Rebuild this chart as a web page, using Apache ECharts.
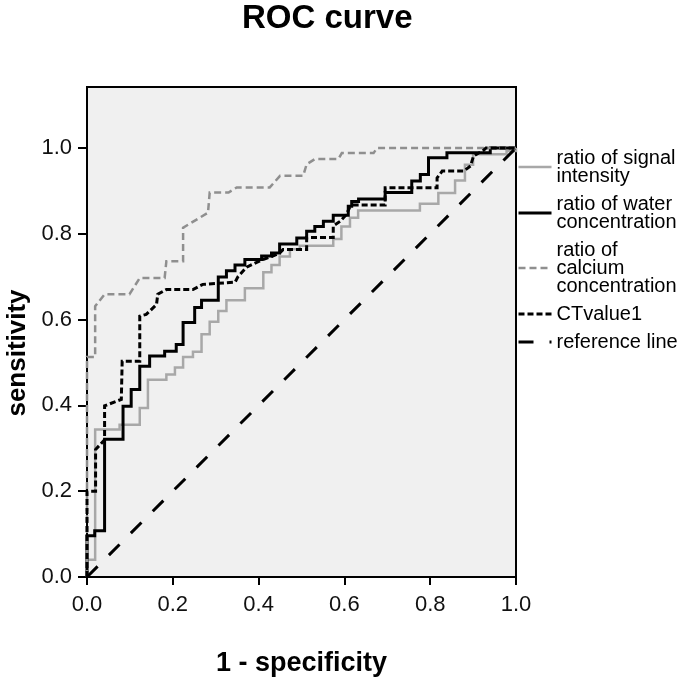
<!DOCTYPE html>
<html>
<head>
<meta charset="utf-8">
<script src="https://cdn.jsdelivr.net/npm/echarts@6/dist/echarts.min.js"></script>
<style>
html, body { margin: 0; padding: 0; background: #fff; }
#chart { width: 677px; height: 677px; }
</style>
</head>
<body>
<div id="chart"></div>
<script>
// ROC points as [1 - specificity, sensitivity]
const signalIntensity = [
  [0, 0], [0, 0.04], [0.019, 0.04], [0.019, 0.344], [0.076, 0.344], [0.076, 0.355],
  [0.123, 0.355], [0.123, 0.394], [0.142, 0.394], [0.142, 0.46], [0.185, 0.46],
  [0.185, 0.472], [0.205, 0.472], [0.205, 0.488], [0.224, 0.488], [0.224, 0.513],
  [0.247, 0.513], [0.247, 0.525], [0.267, 0.525], [0.267, 0.566], [0.286, 0.566],
  [0.286, 0.595], [0.306, 0.595], [0.306, 0.62], [0.325, 0.62], [0.325, 0.645],
  [0.368, 0.645], [0.368, 0.673], [0.411, 0.673], [0.411, 0.71], [0.43, 0.71],
  [0.43, 0.727], [0.449, 0.727], [0.449, 0.747], [0.473, 0.747], [0.473, 0.764],
  [0.496, 0.764], [0.496, 0.772], [0.574, 0.772], [0.574, 0.788], [0.593, 0.788],
  [0.593, 0.817], [0.613, 0.817], [0.613, 0.837], [0.632, 0.837], [0.632, 0.854],
  [0.776, 0.854], [0.776, 0.87], [0.819, 0.87], [0.819, 0.895], [0.858, 0.895],
  [0.858, 0.924], [0.881, 0.924], [0.881, 0.961], [0.9, 0.961], [0.9, 0.985],
  [0.978, 0.985], [0.978, 0.993], [1, 0.993], [1, 1]
];
const waterConcentration = [
  [0, 0], [0, 0.096], [0.018, 0.096], [0.018, 0.108], [0.041, 0.108], [0.041, 0.321],
  [0.084, 0.321], [0.084, 0.398], [0.103, 0.398], [0.103, 0.437], [0.123, 0.437],
  [0.123, 0.491], [0.146, 0.491], [0.146, 0.515], [0.181, 0.515], [0.181, 0.526],
  [0.208, 0.526], [0.208, 0.542], [0.224, 0.542], [0.224, 0.593], [0.251, 0.593],
  [0.251, 0.628], [0.267, 0.628], [0.267, 0.645], [0.306, 0.645], [0.306, 0.699],
  [0.325, 0.699], [0.325, 0.714], [0.345, 0.714], [0.345, 0.727], [0.368, 0.727],
  [0.368, 0.74], [0.407, 0.74], [0.407, 0.748], [0.43, 0.748], [0.43, 0.755],
  [0.449, 0.755], [0.449, 0.776], [0.489, 0.776], [0.489, 0.79], [0.512, 0.79],
  [0.512, 0.806], [0.531, 0.806], [0.531, 0.817], [0.551, 0.817], [0.551, 0.829],
  [0.574, 0.829], [0.574, 0.843], [0.609, 0.843], [0.609, 0.864], [0.617, 0.864],
  [0.617, 0.875], [0.633, 0.875], [0.633, 0.881], [0.695, 0.881], [0.695, 0.896],
  [0.757, 0.896], [0.757, 0.923], [0.777, 0.923], [0.777, 0.938], [0.796, 0.938],
  [0.796, 0.977], [0.839, 0.977], [0.839, 0.989], [0.94, 0.989], [0.94, 1], [1, 1]
];
const calciumConcentration = [
  [0, 0], [0, 0.513], [0.019, 0.513], [0.019, 0.631], [0.041, 0.659], [0.099, 0.659],
  [0.123, 0.697], [0.181, 0.697], [0.185, 0.736], [0.224, 0.736], [0.224, 0.814],
  [0.282, 0.849], [0.286, 0.896], [0.33, 0.896], [0.349, 0.908], [0.426, 0.908],
  [0.45, 0.935], [0.504, 0.935], [0.512, 0.962], [0.531, 0.974], [0.586, 0.974],
  [0.594, 0.988], [0.668, 0.988], [0.676, 1], [1, 1]
];
const ctValue = [
  [0, 0], [0, 0.2], [0.02, 0.2], [0.02, 0.297], [0.041, 0.32], [0.041, 0.399],
  [0.08, 0.414], [0.082, 0.503], [0.123, 0.503], [0.123, 0.608], [0.138, 0.612],
  [0.162, 0.635], [0.165, 0.659], [0.185, 0.67], [0.247, 0.67], [0.27, 0.682],
  [0.345, 0.687], [0.352, 0.7], [0.372, 0.722], [0.41, 0.74], [0.43, 0.747],
  [0.449, 0.755], [0.457, 0.763], [0.512, 0.763], [0.512, 0.791], [0.574, 0.791],
  [0.574, 0.818], [0.59, 0.829], [0.605, 0.845], [0.612, 0.861], [0.62, 0.867],
  [0.695, 0.867], [0.695, 0.907], [0.816, 0.907], [0.816, 0.93], [0.828, 0.946],
  [0.878, 0.946], [0.894, 0.958], [0.901, 0.981], [0.925, 0.995], [0.93, 1], [1, 1]
];
const referenceLine = [[0, 0], [1, 1]];

const seriesNames = [
  'ratio of signal\nintensity',
  'ratio of water\nconcentration',
  'ratio of\ncalcium\nconcentration',
  'CTvalue1',
  'reference line'
];
const xTicks = [0, 0.2, 0.4, 0.6, 0.8, 1.0];
const yTicks = [0, 0.2, 0.4, 0.6, 0.8, 1.0];
const yMax = 1.142;

const FONT = '"Liberation Sans", Arial, sans-serif';

function rocLine(name, data, color, width, dash) {
  return {
    name: name,
    type: 'line',
    data: data,
    symbol: 'none',
    showSymbol: false,
    clip: true,
    lineStyle: { color: color, width: width, type: dash || 'solid', cap: 'butt', join: 'miter' },
    itemStyle: { color: color },
    emphasis: { disabled: true }
  };
}

const chart = echarts.init(document.getElementById('chart'), null, { renderer: 'canvas' });

const option = {
  animation: false,
  backgroundColor: '#fff',
  title: {
    text: 'ROC curve',
    left: 242,
    top: 2,
    padding: 0,
    textStyle: { fontFamily: FONT, fontWeight: 'bold', fontSize: 33, color: '#000' }
  },
  legend: {
    orient: 'vertical',
    left: 517,
    top: 148,
    padding: 0,
    itemWidth: 33,
    itemHeight: 10,
    itemGap: 8,
    selectedMode: false,
    data: seriesNames,
    itemStyle: { opacity: 0 },
    lineStyle: { width: 'inherit' },
    textStyle: { fontFamily: FONT, fontSize: 20, lineHeight: 18, color: '#000' }
  },
  grid: {
    left: 87,
    right: 161,
    top: 87,
    bottom: 100,
    show: true,
    backgroundColor: '#f0f0f0',
    borderColor: '#000',
    borderWidth: 2,
    outerBoundsMode: 'none',
    containLabel: false
  },
  xAxis: {
    type: 'value',
    min: 0,
    max: 1,
    interval: 0.2,
    name: '1 - specificity',
    nameLocation: 'middle',
    nameGap: 73,
    nameTextStyle: { fontFamily: FONT, fontWeight: 'bold', fontSize: 27, color: '#000' },
    axisLine: { show: true, lineStyle: { color: '#000', width: 2 } },
    axisTick: { show: true, inside: false, length: 8, customValues: xTicks, lineStyle: { color: '#000', width: 2 } },
    axisLabel: {
      customValues: xTicks,
      margin: 17,
      fontFamily: FONT,
      fontSize: 22,
      color: '#111',
      formatter: function (v) { return v.toFixed(1); }
    },
    splitLine: { show: false }
  },
  yAxis: {
    type: 'value',
    min: 0,
    max: yMax,
    interval: 0.2,
    axisLine: { show: true, lineStyle: { color: '#000', width: 2 } },
    axisTick: { show: true, inside: false, length: 9, customValues: yTicks, lineStyle: { color: '#000', width: 2 } },
    axisLabel: {
      customValues: yTicks,
      margin: 15,
      fontFamily: FONT,
      fontSize: 22,
      color: '#111',
      formatter: function (v) { return v.toFixed(1); }
    },
    splitLine: { show: false }
  },
  graphic: [
    {
      type: 'text',
      x: 18,
      y: 353,
      rotation: Math.PI / 2,
      style: {
        text: 'sensitivity',
        font: 'bold 26px ' + FONT,
        fill: '#000',
        align: 'center',
        verticalAlign: 'middle'
      }
    }
  ],
  series: [
    rocLine(seriesNames[0], signalIntensity, '#a8a8a8', 2.5),
    rocLine(seriesNames[1], waterConcentration, '#000', 3),
    rocLine(seriesNames[2], calciumConcentration, '#8f8f8f', 2.5, [7, 4]),
    rocLine(seriesNames[3], ctValue, '#000', 3, [6, 3]),
    rocLine(seriesNames[4], referenceLine, '#000', 3, [15, 16])
  ]
};

chart.setOption(option);
</script>
</body>
</html>
